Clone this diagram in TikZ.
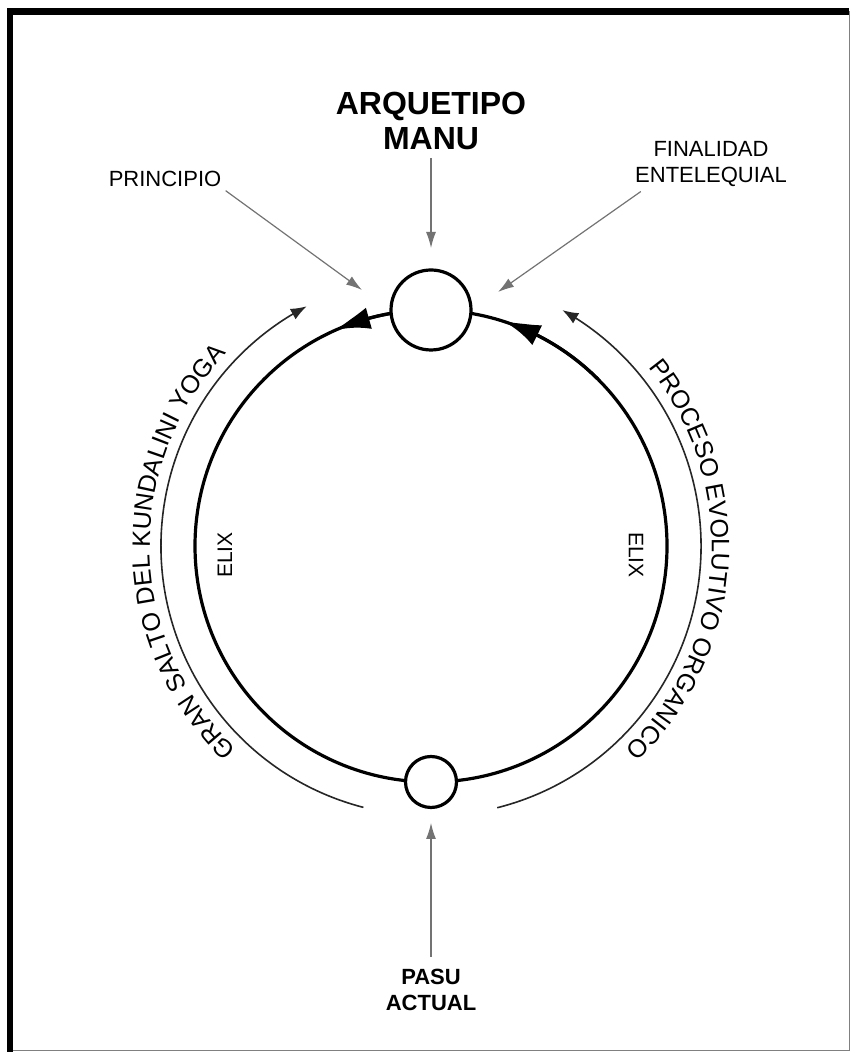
\documentclass[tikz,border=0pt]{standalone}
\usepackage{fontspec}
\setmainfont{Liberation Sans}
\usetikzlibrary{arrows.meta, bending, calc, decorations.text}

\newcommand{\arcfont}{\fontsize{12.6}{14}\selectfont}

\begin{document}
\begin{tikzpicture}[x=0.5pt, y=0.5pt,
    mainline/.style={line width=1.6pt, black},
    bigtip/.style={mainline, -{Latex[length=18pt, width=11pt, bend]}},
    outerline/.style={line width=0.8pt, black!85},
    pointer/.style={line width=0.6pt, black!55, -{Latex[length=8pt, width=5pt]}},
    stop/.style={circle, draw, line width=1.6pt, fill=white, inner sep=0pt},
    label/.style={font=\fontsize{11}{13}\selectfont, align=center, inner sep=2pt}]
    \useasboundingbox (0,0) rectangle (851,1053);

    % frame
    \draw[black!50, line width=0.5pt] (10,2) rectangle (849,1041.5);
    \draw[line width=3.3pt] (10,1) -- (10,1041.5) -- (849,1041.5);

    % main circle
    \coordinate (C) at (431,507);
    \draw[mainline] (C) circle[radius=236];
    \draw[bigtip] ($(C)+(45:236)$) arc[start angle=45, end angle=72, radius=236];
    \draw[bigtip] ($(C)+(92:236)$) arc[start angle=92, end angle=114, radius=236];
    \node[stop, minimum size=40pt] (manuStop) at ($(C)+(90:236)$) {};
    \node[stop, minimum size=25.5pt] (pasuStop) at ($(C)+(270:236)$) {};

    % outer arcs
    \draw[outerline, -{Latex[length=8pt, width=6pt]}] ($(C)+(255.5:270)$) arc[start angle=255.5, end angle=117.4, radius=270];
    \draw[outerline, -{Latex[length=8pt, width=6pt]}] ($(C)+(-75.8:270)$) arc[start angle=-75.8, end angle=60.9, radius=270];
    \path[decorate, decoration={text along path, text align=center,
        text={|\arcfont|GRAN SALTO DEL KUNDALINI YOGA}}]
        ($(C)+(227:281)$) arc[start angle=227, end angle=136, radius=281];
    \path[decorate, decoration={text along path, text align=center,
        text={|\arcfont|PROCESO EVOLUTIVO ORGANICO}}]
        ($(C)+(41:281)$) arc[start angle=41, end angle=-48, radius=281];

    % ELIX
    \node[label, font=\fontsize{10.5}{12}\selectfont, rotate=90] (elixLeft) at (225,498) {ELIX};
    \node[label, font=\fontsize{10.5}{12}\selectfont, rotate=-90] (elixRight) at (636,498) {ELIX};

    % labels
    \node[label, font=\bfseries\fontsize{16}{17.5}\selectfont] (arquetipo) at (431,932) {ARQUETIPO\\MANU};
    \node[label] (principio) at (165,874.5) {PRINCIPIO};
    \node[label] (finalidad) at (711,888.5) {FINALIDAD\\ENTELEQUIAL};
    \node[label, font=\bfseries\fontsize{11}{13}\selectfont] (pasu) at (431,63) {PASU\\ACTUAL};

    % pointers
    \coordinate (principioTip) at (362,763);
    \coordinate (finalidadTip) at (498,761);
    \coordinate (arquetipoTip) at (431,805);
    \coordinate (pasuTip) at (431,230);
    \draw[pointer] (principio.south east) -- (principioTip);
    \draw[pointer] ([xshift=5pt]finalidad.south west) -- (finalidadTip);
    \draw[pointer] ([yshift=-2pt]arquetipo.south) -- (arquetipoTip);
    \draw[pointer] ([yshift=4pt]pasu.north) -- (pasuTip);
\end{tikzpicture}
\end{document}
